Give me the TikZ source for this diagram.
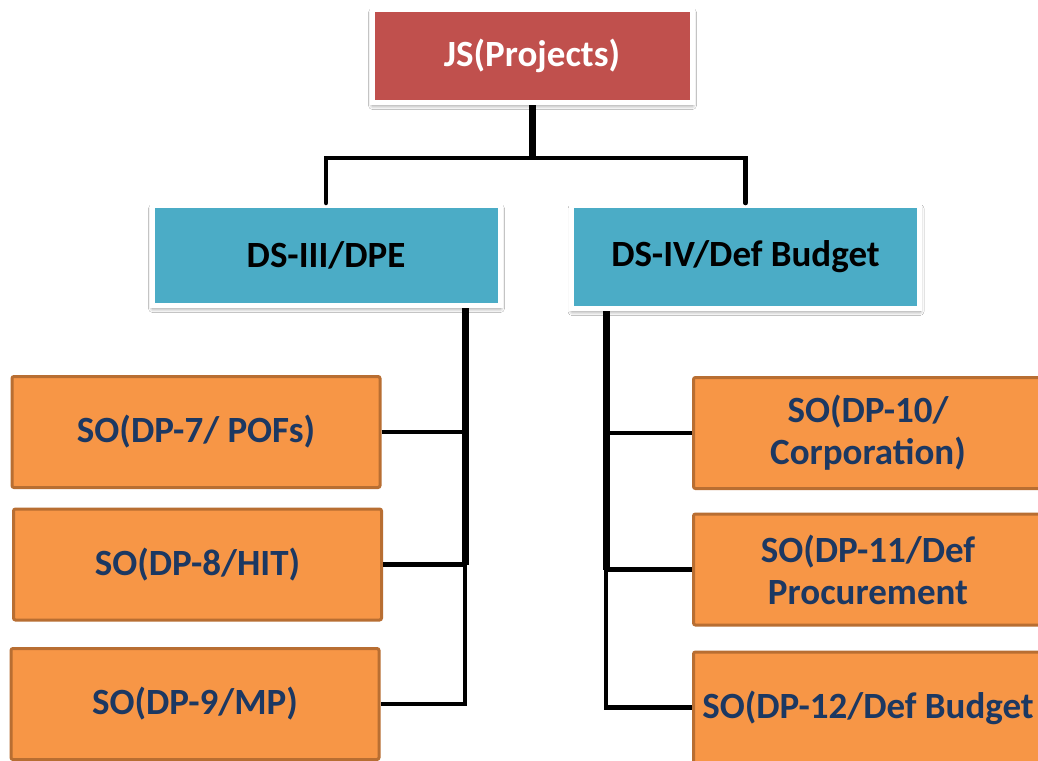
\documentclass[tikz,border=0pt]{standalone}
\usepackage{fontspec}
\setmainfont{Carlito}
\usetikzlibrary{shadows.blur}

\definecolor{jsred}{RGB}{192,80,77}
\definecolor{dsblue}{RGB}{75,172,198}
\definecolor{soorange}{RGB}{247,150,70}
\definecolor{soborder}{RGB}{184,110,50}
\definecolor{sotext}{RGB}{28,56,98}

\tikzset{
  boxfont/.style={font=\fontsize{37}{42}\selectfont\bfseries},
  boxshadow/.style={blur shadow={shadow xshift=0.5pt, shadow yshift=-3pt,
    shadow blur radius=4pt, shadow blur steps=8, shadow opacity=45}},
  headbox/.style={boxfont, fill=jsred, draw=white, line width=5pt, text=white,
    minimum width=320pt, minimum height=93pt, boxshadow},
  dsbox/.style={boxfont, fill=dsblue, draw=white, line width=5pt, text=black,
    minimum width=348pt, minimum height=100pt, boxshadow},
  sobox/.style={boxfont, fill=soorange, draw=soborder, line width=3pt, text=sotext,
    rounded corners=2pt, align=center, minimum width=368pt, minimum height=111pt},
  stem/.style={line width=7pt},
  link/.style={line width=4.5pt}
}

\begin{document}
\begin{tikzpicture}[x=1pt, y=-1pt]
    \clip (0,0) rectangle (1038,760);
    \fill[white] (0,0) rectangle (1038,760);

    \node[headbox] (js) at (532,56) {JS(Projects)};
    \node[dsbox] (ds3) at (326,255.5) {DS-III/DPE};
    \node[dsbox, minimum height=103pt] (ds4) at (745.5,257) {DS-IV/Def Budget};

    \node[sobox] (so7) at (196,432) {SO(DP-7/ POFs)};
    \node[sobox] (so8) at (197.5,564.5) {SO(DP-8/HIT)};
    \node[sobox] (so9) at (195,704) {SO(DP-9/MP)};

    \node[sobox, minimum width=349pt] (so10) at (868,433) {SO(DP-10/\\Corporation)};
    \node[sobox, minimum width=349pt] (so11) at (868,569.5) {SO(DP-11/Def\\Procurement};
    \node[sobox, minimum width=349pt] (so12) at (868,707.5) {SO(DP-12/Def Budget};

    \coordinate (split) at (532,158);
    \coordinate (ltrunk) at (465,0);
    \coordinate (rtrunk) at (606,0);

    \draw[stem] (js.south) -- (split);
    \draw[link, line cap=round] (ds3.north) |- (split) -| (ds4.north);

    \draw[stem] (ds3.south -| ltrunk) -- (so8.east -| ltrunk);
    \draw[link] (so8.east -| ltrunk) -- (so9.east -| ltrunk) -- (so9.east);
    \draw[link] (so7.east) -- (so7.east -| ltrunk);
    \draw[link] (so8.east) -- (so8.east -| ltrunk);

    \draw[stem] (ds4.south -| rtrunk) -- (so11.west -| rtrunk);
    \draw[link] (so11.west -| rtrunk) -- (so12.west -| rtrunk) -- (so12.west);
    \draw[link] (so10.west) -- (so10.west -| rtrunk);
    \draw[link] (so11.west) -- (so11.west -| rtrunk);
\end{tikzpicture}
\end{document}
